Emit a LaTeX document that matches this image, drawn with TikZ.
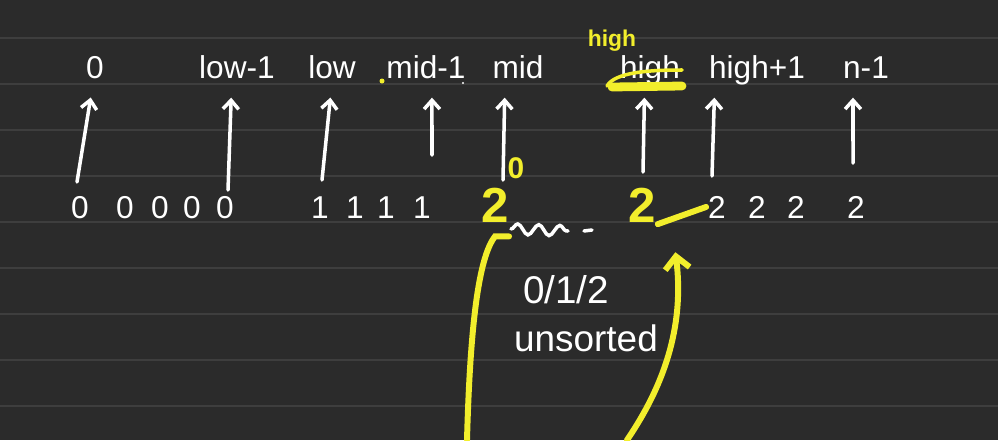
\documentclass[tikz,border=0pt]{standalone}
\usepackage{fontspec}
\setmainfont{Liberation Sans}
\usetikzlibrary{arrows.meta, decorations.pathmorphing}
\definecolor{board}{HTML}{2B2B2B}
\definecolor{ruling}{HTML}{3E3E3E}
\definecolor{marker}{HTML}{F2EE2C}

\begin{document}
\begin{tikzpicture}[x=0.02cm, y=-0.02cm,
    ink/.style = {white, line width=2pt, line cap=round},
    hl/.style = {marker, line width=3.4pt, line cap=round},
    ptr/.style = {ink, -{Straight Barb[length=5pt, width=9pt]}, shorten >=9pt},
    lbl/.style = {white, font=\fontsize{18}{20}\selectfont, anchor=base,
        inner sep=2pt, text depth=0pt},
    val/.style = {white, font=\fontsize{18}{20}\selectfont, anchor=base,
        inner sep=1pt},
    hltext/.style = {marker, anchor=base, inner sep=1pt}]
    % board and ruling
    \useasboundingbox (0,0) rectangle (998,440);
    \fill [board] (0,0) rectangle (998,440);
    \foreach \y in {38,84,...,406}
        \draw [ruling, line width=0.8pt] (0,\y) -- (998,\y);

    % index labels
    \node (l0) [lbl] at (95,78) {0};
    \node (llowm) [lbl] at (237,78) {low-1};
    \node (llow) [lbl] at (332,78) {low};
    \node (lmidm) [lbl] at (426,78) {mid-1};
    \node (lmid) [lbl] at (518,78) {mid};
    \node (lhigh) [lbl] at (650,78) {high};
    \node (lhighp) [lbl] at (757,78) {high+1};
    \node (ln) [lbl] at (866,78) {n-1};
    \node (yhigh) [hltext, font=\bfseries\fontsize{13}{14}\selectfont]
        at (612,46) {high};
    \fill [marker] (382,81) circle (2.5);
    \fill [white] (463,83) circle (1.2);

    % array values
    \foreach \x [count=\i] in {80,125,160,192,225}
        \node (z\i) [val] at (\x,218) {0};
    \foreach \x [count=\i] in {320,355,386,422}
        \node (o\i) [val] at (\x,218) {1};
    \foreach \x [count=\i] in {717,757,796,856}
        \node (w\i) [val] at (\x,218) {2};
    \node (ylo) [hltext, font=\bfseries\fontsize{28}{30}\selectfont]
        at (495,222) {2};
    \node (yzero) [hltext, font=\bfseries\fontsize{17}{18}\selectfont]
        at (516,178) {0};
    \node (yhi) [hltext, font=\bfseries\fontsize{28}{30}\selectfont]
        at (642,222) {2};
    \node (ctext) [white, font=\fontsize{22}{24}\selectfont] at (566,290) {0/1/2};
    \node (note) [white, font=\fontsize{21}{24}\selectfont] at (586,338) {unsorted};

    % pointers
    \coordinate (t0) at (77,182);
    \coordinate (tlowm) at (228,190);
    \coordinate (tlow) at (322,180);
    \coordinate (tmidm) at (432,155);
    \coordinate (tmid) at (503,180);
    \coordinate (thigh) at (643,172);
    \coordinate (thighp) at (712,176);
    \coordinate (tn) at (853,163);
    \draw [ptr] (t0) -- ([xshift=-1pt]l0.south);
    \draw [ptr] (tlowm) -- ([xshift=-3pt]llowm.south);
    \draw [ptr] (tlow) -- (llow.south);
    \draw [ptr] (tmidm) -- ([xshift=3.4pt]lmidm.south);
    \draw [ptr] (tmid) -- ([xshift=-7.4pt]lmid.south);
    \draw [ptr] (thigh) -- ([xshift=-3pt]lhigh.south);
    \draw [ptr] (thighp) -- ([xshift=-24pt]lhighp.south);
    \draw [ptr] (tn) -- ([xshift=-7.4pt]ln.south);

    % unsorted part
    \draw [ink, decorate, decoration={snake, amplitude=3pt, segment length=12pt}]
        (511,229) -- (568,231);
    \draw [ink] (584,231) -- (592,230);

    % yellow marks
    \draw [hl, line width=2pt] (607,86) .. controls (615,72) and (650,70) .. (682,70);
    \draw [hl, line width=5pt] (612,87) -- (682,86);
    \draw [hl] (yhi.south east) -- (w1.west);
    \coordinate (sa) at (467,440);
    \coordinate (sb) at (627,440);
    \draw [hl] (sa) .. controls (470,330) and (478,258) .. ([yshift=-7pt]ylo.south)
        -- ++(8pt,0);
    \draw [hl, -{Straight Barb[length=7pt, width=14pt]}]
        (sb) .. controls (668,380) and (684,320) .. ([shift={(10pt,-16pt)}]yhi.south east);
\end{tikzpicture}
\end{document}
